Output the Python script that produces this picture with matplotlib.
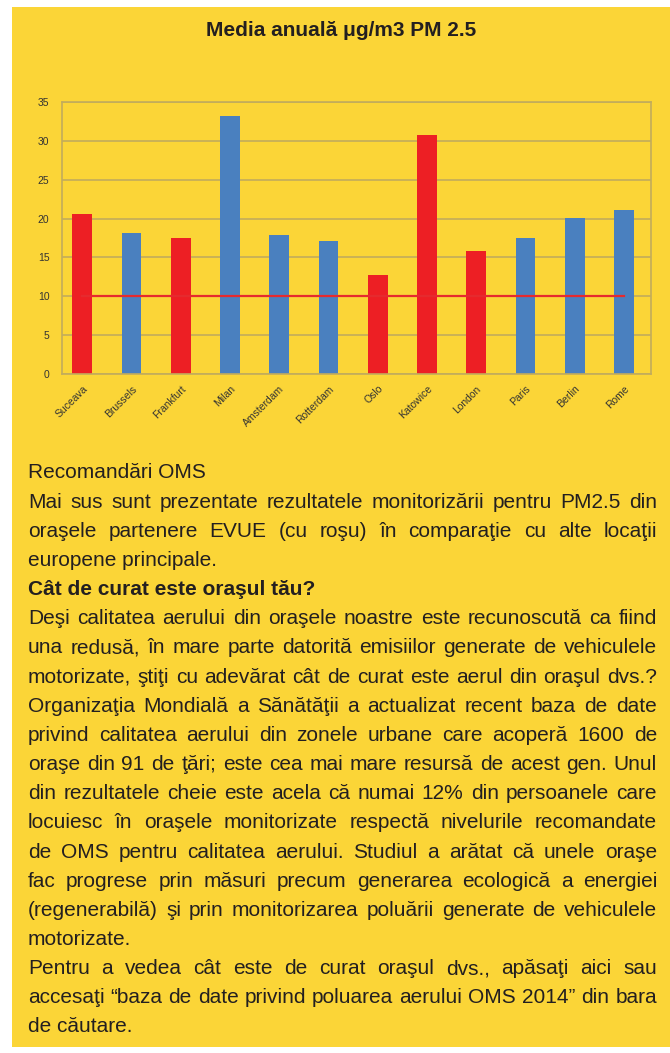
import matplotlib
matplotlib.use("Agg")
import matplotlib.pyplot as plt
from matplotlib.patches import Rectangle
from matplotlib import font_manager

# date
cities = ["Suceava", "Brussels", "Frankfurt", "Milan", "Amsterdam", "Rotterdam",
          "Oslo", "Katowice", "London", "Paris", "Berlin", "Rome"]
pm25 = [20.6, 18.1, 17.5, 33.2, 17.85, 17.1, 12.7, 30.8, 15.8, 17.5, 20.1, 21.1]
evue_partner = [True, False, True, False, False, False, True, True, True, False, False, False]
oms_limit = [10] * len(cities)
yticks = [0, 5, 10, 15, 20, 25, 30, 35]

title = "Media anuală μg/m3 PM 2.5"

# (text, justify, bold)
text_lines = [
    ("Recomandări OMS", False, False),
    ("Mai sus sunt prezentate rezultatele monitorizării pentru PM2.5 din", True, False),
    ("oraşele partenere EVUE (cu roşu) în comparaţie cu alte locaţii", True, False),
    ("europene principale.", False, False),
    ("Cât de curat este oraşul tău?", False, True),
    ("Deşi calitatea aerului din oraşele noastre este recunoscută ca fiind", True, False),
    ("una redusă, în mare parte datorită emisiilor generate de vehiculele", True, False),
    ("motorizate, ştiţi cu adevărat cât de curat este aerul din oraşul dvs.?", True, False),
    ("Organizaţia Mondială a Sănătăţii a actualizat recent baza de date", True, False),
    ("privind calitatea aerului din zonele urbane care acoperă 1600 de", True, False),
    ("oraşe din 91 de ţări; este cea mai mare resursă de acest gen. Unul", True, False),
    ("din rezultatele cheie este acela că numai 12% din persoanele care", True, False),
    ("locuiesc în oraşele monitorizate respectă nivelurile recomandate", True, False),
    ("de OMS pentru calitatea aerului. Studiul a arătat că unele oraşe", True, False),
    ("fac progrese prin măsuri precum generarea ecologică a energiei", True, False),
    ("(regenerabilă) şi prin monitorizarea poluării generate de vehiculele", True, False),
    ("motorizate.", False, False),
    ("Pentru a vedea cât este de curat oraşul dvs., apăsaţi aici sau", True, False),
    ("accesaţi “baza de date privind poluarea aerului OMS 2014” din bara", True, False),
    ("de căutare.", False, False),
]

YELLOW = "#FBD537"
RED = "#ED1F24"
BLUE = "#4A80BF"
GRID = "#C2AC5C"
TXT = "#231F20"

names = {f.name for f in font_manager.fontManager.ttflist}
narrow = [f for f in ["Liberation Sans Narrow", "DejaVu Sans Condensed"] if f in names]
body_family = narrow + ["Liberation Sans", "DejaVu Sans"]
plt.rcParams["font.family"] = ["Liberation Sans", "DejaVu Sans"]

W, H = 670, 1053
fig = plt.figure(figsize=(W / 100, H / 100), dpi=100, facecolor="white")
fig.patches.append(Rectangle((12 / W, 6 / H), 1 - 12 / W, 1 - 13 / H,
                             transform=fig.transFigure, facecolor=YELLOW,
                             edgecolor="none", zorder=-5))

fig.text(341 / W, 1 - 30 / H, title, ha="center", va="center",
         fontsize=15, fontweight="bold", color=TXT)

ax = fig.add_axes([62 / W, 1 - 374 / H, (651 - 62) / W, (374 - 102) / H])
ax.set_facecolor(YELLOW)
x = range(len(cities))
colors = [RED if p else BLUE for p in evue_partner]
ax.bar(x, pm25, width=0.4, color=colors, zorder=2)
ax.plot(x, oms_limit, color="#E62A2E", linewidth=1.6, zorder=3)

ax.set_ylim(0, 35)
ax.set_xlim(-0.41, 11.55)
ax.set_yticks(yticks)
ax.set_yticklabels([str(v) for v in yticks], fontsize=7.5, color="#333333")
ax.set_xticks(list(x))
ax.set_xticklabels(cities, rotation=45, ha="right", rotation_mode="anchor",
                   fontsize=7.5, color="#333333")
ax.tick_params(length=0, pad=9)
ax.tick_params(axis="x", pad=7)
ax.grid(axis="y", color=GRID, linewidth=1.2, zorder=1)
ax.set_axisbelow(True)
for s in ax.spines.values():
    s.set_color(GRID)
    s.set_linewidth(1.2)

# text block, justified
left_px, right_px = 28, 657
y0, y1 = 473, 1027
step = (y1 - y0) / (len(text_lines) - 1)
fs = 15
renderer = fig.canvas.get_renderer()
for i, (line, justify, bold) in enumerate(text_lines):
    ypix = y0 + i * step + 5.5   # baseline
    yf = 1 - ypix / H
    weight = "bold" if bold else "normal"
    fam = ["Liberation Sans", "DejaVu Sans"] if bold else body_family
    if not justify:
        fig.text(left_px / W, yf, line, ha="left", va="baseline", fontsize=fs,
                 fontweight=weight, color=TXT, family=fam)
        continue
    words = line.split(" ")
    objs = [fig.text(0, yf, w, ha="left", va="baseline", fontsize=fs,
                     fontweight=weight, color=TXT, family=fam) for w in words]
    widths = [o.get_window_extent(renderer).width for o in objs]
    gap = (right_px - left_px - sum(widths)) / (len(words) - 1)
    xp = left_px
    for o, wd in zip(objs, widths):
        o.set_x(xp / W)
        xp += wd + gap

fig.savefig("out.png", dpi=100, facecolor="white")
